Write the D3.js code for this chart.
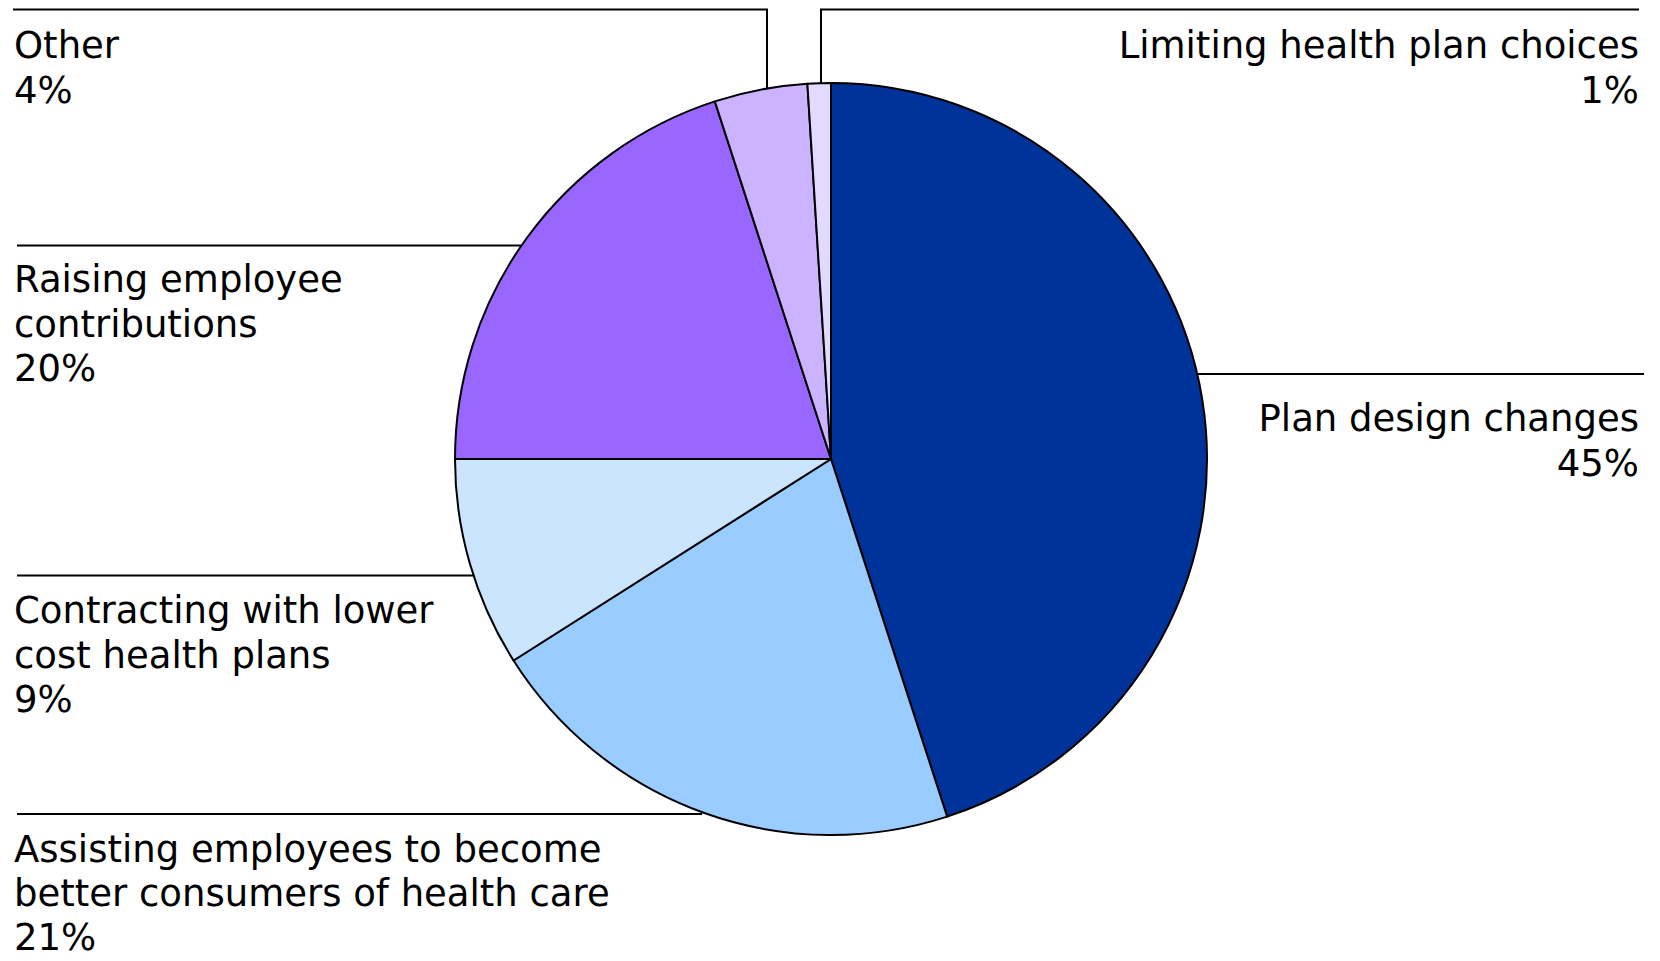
<!DOCTYPE html>
<html>
<head>
<meta charset="utf-8">
<script src="https://cdn.jsdelivr.net/npm/d3@7"></script>
<style>
  html, body { margin: 0; padding: 0; background: #ffffff; }
  svg { display: block; }
  text { font-family: "DejaVu Sans", Verdana, sans-serif; fill: #000; }
</style>
</head>
<body>
<svg id="chart" width="1660" height="961"></svg>
<script>
// ---- data ----
const categories = [
  "Plan design changes",
  "Assisting employees to become better consumers of health care",
  "Contracting with lower cost health plans",
  "Raising employee contributions",
  "Other",
  "Limiting health plan choices"
];
const values = [45, 21, 9, 20, 4, 1];
const labelLines = [
  ["Plan design changes"],
  ["Assisting employees to become", "better consumers of health care"],
  ["Contracting with lower", "cost health plans"],
  ["Raising employee", "contributions"],
  ["Other"],
  ["Limiting health plan choices"]
];
const colors = ["#003399", "#99CCFF", "#CCE5FF", "#9966FF", "#CCB3FF", "#E2DAFF"];

// ---- layout ----
const W = 1660, H = 961;
const cx = 831, cy = 459, R = 376;
const fontSize = 37, lineGap = 44.5;
// label layout: side, leader type, leader position, text baseline
const labelLayout = [
  { side: "right", type: "h", y: 374,   end: 1644, tx: 1639, ty: 431 },
  { side: "left",  type: "h", y: 814,   end: 17,   tx: 14,   ty: 862, gap: 44, inset: 5 },
  { side: "left",  type: "h", y: 575.5, end: 17,   tx: 14,   ty: 623 },
  { side: "left",  type: "h", y: 245.5, end: 17,   tx: 14,   ty: 292 },
  { side: "left",  type: "v", x: 767, top: 9.5, end: 13,   tx: 14,   ty: 58 },
  { side: "right", type: "v", x: 821, top: 9.5, end: 1639, tx: 1639, ty: 58 }
];

const svg = d3.select("#chart");
const g = svg.append("g").attr("transform", `translate(${cx},${cy})`);

const data = categories.map((c, i) => ({ name: c, value: values[i], i }));
const pie = d3.pie().sort(null).value(d => d.value).startAngle(0).endAngle(2 * Math.PI);
const arc = d3.arc().innerRadius(0).outerRadius(R);
const color = d3.scaleOrdinal().domain(categories).range(colors);

g.selectAll("path.slice")
  .data(pie(data))
  .join("path")
  .attr("class", "slice")
  .attr("d", arc)
  .attr("fill", d => color(d.data.name))
  .attr("stroke", "#000")
  .attr("stroke-width", 2)
  .attr("stroke-linejoin", "round");

// leader lines
const leaders = svg.append("g");
labelLayout.forEach((L, i) => {
  let pts;
  if (L.type === "h") {
    const dy = L.y - cy;
    const dx = Math.sqrt(Math.max(0, R * R - dy * dy)) + (L.inset || 0);
    const xEdge = L.side === "right" ? cx + dx : cx - dx;
    pts = [[xEdge, L.y], [L.end, L.y]];
  } else {
    const dx = L.x - cx;
    const dy = Math.sqrt(Math.max(0, R * R - dx * dx));
    const yEdge = cy - dy;
    pts = [[L.x, yEdge], [L.x, L.top], [L.end, L.top]];
  }
  leaders.append("path")
    .attr("d", d3.line()(pts))
    .attr("fill", "none")
    .attr("stroke", "#000")
    .attr("stroke-width", 2);
});

// labels
const labels = svg.append("g");
labelLayout.forEach((L, i) => {
  const lines = labelLines[i].concat([values[i] + "%"]);
  const gap = L.gap || lineGap;
  const t = labels.append("text")
    .attr("x", L.tx)
    .attr("y", L.ty)
    .attr("font-size", fontSize)
    .attr("text-anchor", L.side === "right" ? "end" : "start");
  lines.forEach((s, k) => {
    t.append("tspan")
      .attr("x", L.tx)
      .attr("y", L.ty + k * gap)
      .text(s);
  });
});
</script>
</body>
</html>
